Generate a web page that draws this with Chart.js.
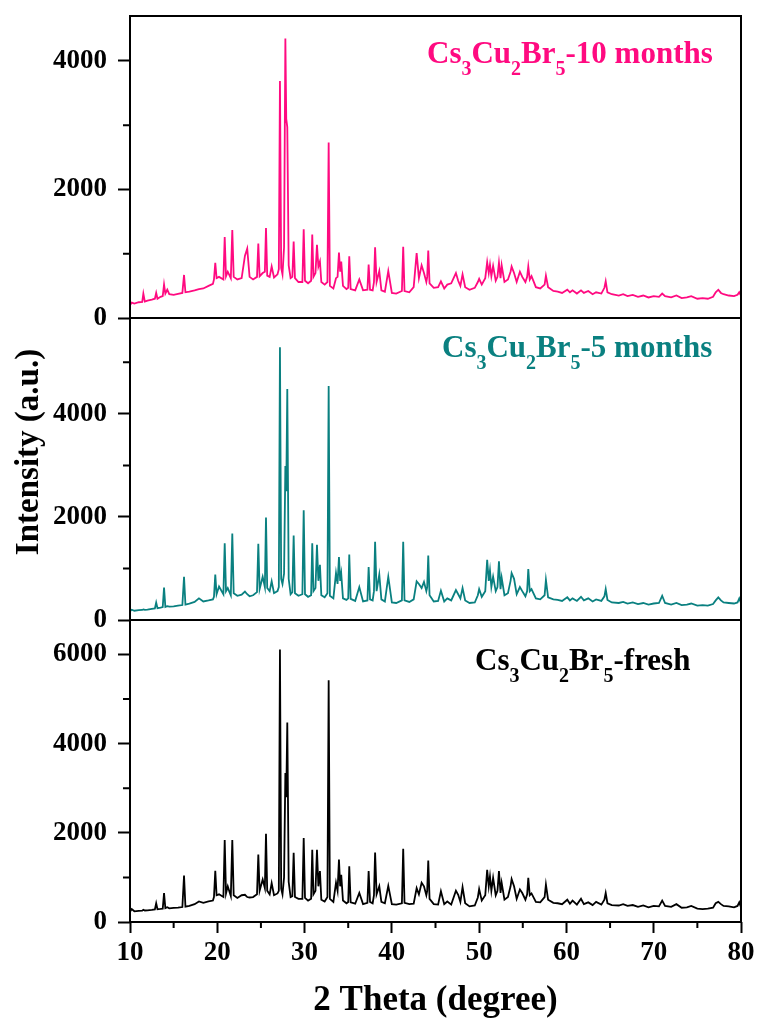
<!DOCTYPE html>
<html lang="en">
<head>
  <meta charset="UTF-8">
  <title>Cs3Cu2Br5 XRD</title>
  <script src="https://cdn.jsdelivr.net/npm/chart.js"></script>
  <style>
    * { margin: 0; padding: 0; box-sizing: border-box; }
    html, body { background: #fff; }
    .chart-container { position: relative; width: 758px; height: 1022px; }
  </style>
</head>
<body>
  <div class="chart-container">
    <canvas id="xrdChart"></canvas>
  </div>

  <script>
    // 2 theta positions, shared by the three patterns
    const twoTheta = [
      10.0, 10.2, 10.5, 11.0, 11.4, 11.53, 11.7, 12.0, 12.5, 12.85, 13.0, 13.15, 13.5, 13.75, 13.9, 14.05, 14.27, 14.5, 15.0, 15.5,
      16.0, 16.19, 16.35, 16.8, 17.4, 17.9, 18.4, 19.0, 19.5, 19.62, 19.77, 19.92, 20.2, 20.7, 20.85, 21.0, 21.2, 21.55, 21.72, 21.88,
      22.3, 22.79, 23.17, 23.43, 23.7, 24.1, 24.55, 24.7, 24.85, 25.2, 25.45, 25.58, 25.72, 26.0, 26.23, 26.5, 26.9, 27.05, 27.18, 27.32,
      27.47, 27.65, 27.8, 27.9, 28.02, 28.18, 28.4, 28.6, 28.75, 28.9, 29.3, 29.75, 29.9, 30.05, 30.4, 30.75, 30.88, 31.02, 31.25, 31.42,
      31.58, 31.76, 31.92, 32.3, 32.62, 32.76, 32.9, 33.3, 33.6, 33.78, 33.94, 34.08, 34.2, 34.4, 34.8, 35.0, 35.12, 35.28, 35.8, 36.27,
      36.7, 37.2, 37.34, 37.5, 37.8, 37.95, 38.08, 38.25, 38.56, 38.8, 39.2, 39.59, 40.0, 40.5, 41.15, 41.3, 41.45, 42.0, 42.5, 42.84,
      43.1, 43.41, 43.68, 43.95, 44.05, 44.17, 44.32, 44.8, 45.3, 45.62, 46.0, 46.35, 46.8, 47.34, 47.6, 47.85, 48.1, 48.4, 48.9, 49.5,
      49.85, 50.0, 50.3, 50.7, 50.92, 51.1, 51.24, 51.4, 51.6, 51.9, 52.1, 52.27, 52.45, 52.58, 52.9, 53.3, 53.6, 53.72, 54.0, 54.3,
      54.67, 54.94, 55.3, 55.5, 55.63, 55.8, 56.0, 56.5, 57.0, 57.5, 57.65, 57.9, 58.5, 59.0, 59.5, 60.1, 60.4, 60.7, 61.2, 61.67,
      62.0, 62.5, 63.0, 63.4, 64.0, 64.35, 64.5, 64.7, 65.2, 66.0, 66.5, 67.0, 67.6, 68.2, 68.8, 69.4, 70.0, 70.6, 70.97, 71.3,
      72.0, 72.6, 73.2, 73.8, 74.3, 75.0, 75.6, 76.2, 76.8, 77.1, 77.4, 77.7, 78.0, 78.6, 79.2, 79.6, 79.8, 80.0
    ];

    // intensities (a.u.)
    const fresh = [
      230, 290, 240, 250, 255, 275, 258, 262, 270, 280, 420, 285, 292, 300, 650, 310, 330, 305, 315, 322,
      335, 1040, 345, 360, 400, 460, 430, 460, 480, 560, 1150, 600, 620, 560, 1840, 640, 800, 580, 1840, 600,
      540, 600, 610, 560, 550, 560, 620, 1510, 700, 950, 760, 1980, 700, 620, 870, 600, 640, 700, 6110, 750,
      620, 1000, 3340, 2800, 4470, 900, 560, 580, 1550, 560, 520, 520, 1880, 540, 480, 520, 1620, 620, 700, 1620,
      800, 1140, 500, 460, 560, 5420, 520, 450, 880, 700, 1400, 800, 1060, 480, 420, 450, 1250, 440, 410, 650,
      400, 430, 1140, 450, 420, 600, 1560, 620, 800, 450, 420, 810, 400, 390, 420, 1640, 430, 400, 410, 760,
      620, 880, 800, 600, 700, 1380, 520, 400, 390, 690, 400, 460, 390, 700, 610, 450, 780, 420, 350, 370,
      550, 740, 480, 600, 1170, 800, 1020, 700, 990, 600, 700, 1140, 650, 880, 500, 560, 800, 960, 800, 520,
      730, 650, 500, 620, 990, 600, 640, 450, 440, 560, 840, 500, 430, 420, 400, 500, 410, 480, 390, 520,
      400, 440, 380, 450, 390, 500, 650, 420, 380, 370, 400, 360, 380, 340, 370, 330, 360, 350, 480, 360,
      340, 400, 320, 330, 360, 300, 290, 300, 320, 420, 450, 400, 360, 350, 330, 360, 440, 330
    ];
    const fiveMonths = [
      170, 200, 180, 190, 195, 205, 198, 200, 215, 225, 340, 230, 240, 250, 630, 255, 270, 260, 265, 280,
      290, 840, 300, 320, 350, 420, 360, 380, 400, 450, 880, 500, 650, 500, 1490, 560, 620, 480, 1680, 520,
      470, 490, 550, 500, 460, 480, 540, 1480, 600, 840, 640, 1990, 620, 560, 750, 520, 560, 640, 5290, 800,
      700, 900, 2990, 2500, 4480, 800, 500, 540, 1640, 520, 470, 500, 2130, 500, 450, 480, 1490, 560, 620, 1460,
      760, 1070, 480, 440, 520, 4540, 470, 420, 910, 700, 1220, 760, 900, 420, 390, 420, 1270, 410, 370, 640,
      360, 380, 1030, 400, 380, 560, 1520, 560, 880, 400, 360, 840, 340, 330, 380, 1520, 380, 350, 400, 750,
      700, 620, 740, 560, 640, 1250, 480, 360, 370, 570, 360, 420, 380, 580, 500, 420, 620, 380, 330, 340,
      480, 600, 450, 560, 1170, 760, 960, 640, 840, 560, 640, 1140, 600, 820, 480, 520, 760, 910, 800, 500,
      640, 560, 460, 560, 990, 560, 600, 420, 400, 480, 780, 440, 400, 390, 370, 440, 380, 420, 370, 450,
      380, 420, 360, 400, 370, 460, 600, 390, 340, 330, 350, 320, 340, 310, 330, 300, 320, 330, 470, 330,
      300, 330, 290, 300, 320, 280, 290, 280, 310, 380, 440, 380, 340, 330, 320, 340, 420, 330
    ];
    const tenMonths = [
      200, 240, 225, 245, 250, 380, 255, 270, 285, 300, 390, 300, 330, 340, 520, 380, 440, 370, 360, 375,
      390, 670, 400, 410, 430, 450, 460, 500, 530, 600, 860, 620, 640, 600, 1260, 650, 720, 620, 1370, 640,
      600, 620, 970, 1080, 640, 600, 640, 1160, 650, 700, 720, 1400, 660, 640, 800, 630, 680, 760, 3690, 780,
      680, 1100, 4350, 3100, 2970, 820, 620, 640, 1190, 620, 560, 560, 1380, 580, 540, 580, 1300, 640, 700, 1140,
      800, 880, 560, 520, 560, 2730, 500, 460, 620, 640, 1020, 720, 880, 500, 450, 470, 960, 450, 430, 600,
      430, 440, 830, 440, 430, 560, 1100, 560, 730, 430, 410, 730, 390, 380, 420, 1110, 420, 400, 480, 1010,
      620, 820, 700, 560, 640, 1050, 540, 470, 480, 570, 460, 520, 540, 700, 580, 500, 680, 480, 440, 470,
      560, 610, 520, 620, 870, 700, 830, 650, 810, 580, 640, 860, 620, 820, 560, 600, 720, 800, 700, 560,
      720, 640, 560, 640, 800, 600, 650, 480, 460, 520, 660, 480, 420, 410, 390, 440, 400, 430, 380, 430,
      390, 420, 370, 400, 380, 470, 570, 400, 370, 350, 370, 340, 360, 330, 350, 320, 340, 330, 380, 340,
      320, 350, 310, 320, 340, 300, 310, 300, 330, 400, 440, 390, 370, 350, 340, 360, 400, 350
    ];

    // axis ticks and ranges
    const xTicks = [10, 20, 30, 40, 50, 60, 70, 80];
    const xMinor = [15, 25, 35, 45, 55, 65, 75];
    const tenTicks = [0, 2000, 4000];
    const tenMinor = [1000, 3000];
    const fiveTicks = [0, 2000, 4000];
    const fiveMinor = [1000, 3000, 5000];
    const freshTicks = [0, 2000, 4000, 6000];
    const freshMinor = [1000, 3000, 5000];
    const tenMax = 4700, fiveMax = 5860, freshMax = 6770;

    const serif = "'Liberation Serif', 'Times New Roman', serif";
    const tickFont = { family: serif, size: 27, weight: 'bold' };

    // one panel per sample: scale id, colour and label pieces ([text, isSubscript])
    const panels = [
      { id: 'yTen', color: '#FF0A80', minor: tenMinor, lx: 427, ly: 47,
        parts: [['Cs', 0], ['3', 1], ['Cu', 0], ['2', 1], ['Br', 0], ['5', 1], ['-10 months', 0]] },
      { id: 'yFive', color: '#0A8080', minor: fiveMinor, lx: 442, ly: 39,
        parts: [['Cs', 0], ['3', 1], ['Cu', 0], ['2', 1], ['Br', 0], ['5', 1], ['-5 months', 0]] },
      { id: 'yFresh', color: '#000000', minor: freshMinor, lx: 475, ly: 50,
        parts: [['Cs', 0], ['3', 1], ['Cu', 0], ['2', 1], ['Br', 0], ['5', 1], ['-fresh', 0]] }
    ];

    function yAxis(max, ticks, weight) {
      return {
        type: 'linear',
        position: 'left',
        stack: 'xrd',
        stackWeight: 1,
        weight: weight,
        min: 0,
        max: max,
        afterFit: s => { s.width = 130; s.paddingTop = 0; s.paddingBottom = 0; },
        afterBuildTicks: s => { s.ticks = ticks.map(v => ({ value: v })); },
        grid: { drawOnChartArea: false, drawTicks: true, tickLength: 12, tickWidth: 2, tickColor: '#000' },
        border: { display: false },
        ticks: { color: '#000', font: tickFont, padding: 11, callback: v => String(v) }
      };
    }

    // frame, minor ticks, sample labels and the y title
    const decorations = {
      id: 'decorations',
      afterDraw(chart) {
        const ctx = chart.ctx;
        const area = chart.chartArea;
        ctx.save();
        ctx.strokeStyle = '#000';
        ctx.lineWidth = 2;

        panels.forEach(p => {
          const s = chart.scales[p.id];
          ctx.strokeRect(area.left, s.top, area.right - area.left, s.bottom - s.top);
          ctx.beginPath();
          p.minor.forEach(v => {
            const y = s.getPixelForValue(v);
            ctx.moveTo(area.left - 7, y);
            ctx.lineTo(area.left, y);
          });
          ctx.stroke();

          // label with subscripts
          let x = p.lx;
          const base = s.top + p.ly;
          ctx.fillStyle = p.color;
          ctx.textBaseline = 'alphabetic';
          ctx.textAlign = 'left';
          p.parts.forEach(([txt, sub]) => {
            ctx.font = sub ? `bold 20px ${serif}` : `bold 31px ${serif}`;
            ctx.fillText(txt, x, sub ? base + 12 : base);
            x += ctx.measureText(txt).width;
          });
        });

        const xs = chart.scales.x;
        ctx.beginPath();
        xMinor.forEach(v => {
          const x = xs.getPixelForValue(v);
          ctx.moveTo(x, area.bottom);
          ctx.lineTo(x, area.bottom + 6);
        });
        ctx.stroke();

        ctx.translate(38, 452);
        ctx.rotate(-Math.PI / 2);
        ctx.fillStyle = '#000';
        ctx.font = `bold 33px ${serif}`;
        ctx.textAlign = 'center';
        ctx.textBaseline = 'alphabetic';
        ctx.fillText('Intensity (a.u.)', 0, 0);
        ctx.restore();
      }
    };

    const toPoints = ys => twoTheta.map((x, i) => ({ x: x, y: ys[i] }));

    const ctx = document.getElementById('xrdChart').getContext('2d');
    new Chart(ctx, {
      type: 'line',
      data: {
        datasets: [
          { label: 'fresh', data: toPoints(fresh), yAxisID: 'yFresh', borderColor: panels[2].color },
          { label: '5 months', data: toPoints(fiveMonths), yAxisID: 'yFive', borderColor: panels[1].color },
          { label: '10 months', data: toPoints(tenMonths), yAxisID: 'yTen', borderColor: panels[0].color }
        ]
      },
      options: {
        responsive: true,
        maintainAspectRatio: false,
        animation: false,
        layout: { padding: { top: 16, right: 17, left: 0, bottom: 0 } },
        elements: {
          line: { borderWidth: 1.8, tension: 0, fill: false },
          point: { radius: 0 }
        },
        plugins: {
          legend: { display: false },
          tooltip: { enabled: false }
        },
        scales: {
          x: {
            type: 'linear',
            min: 10,
            max: 80,
            afterFit: s => { s.height = 100; s.paddingLeft = 0; s.paddingRight = 0; },
            afterBuildTicks: s => { s.ticks = xTicks.map(v => ({ value: v })); },
            grid: { drawOnChartArea: false, drawTicks: true, tickLength: 11, tickWidth: 2, tickColor: '#000' },
            border: { display: false },
            ticks: { color: '#000', font: tickFont, padding: 4, maxRotation: 0, autoSkip: false },
            title: {
              display: true,
              text: '2 Theta (degree)',
              color: '#000',
              font: { family: serif, size: 35, weight: 'bold' },
              padding: { top: 0, bottom: 0 }
            }
          },
          yFresh: yAxis(freshMax, freshTicks, 1),
          yFive: yAxis(fiveMax, fiveTicks, 2),
          yTen: yAxis(tenMax, tenTicks, 3)
        }
      },
      plugins: [decorations]
    });
  </script>
</body>
</html>
